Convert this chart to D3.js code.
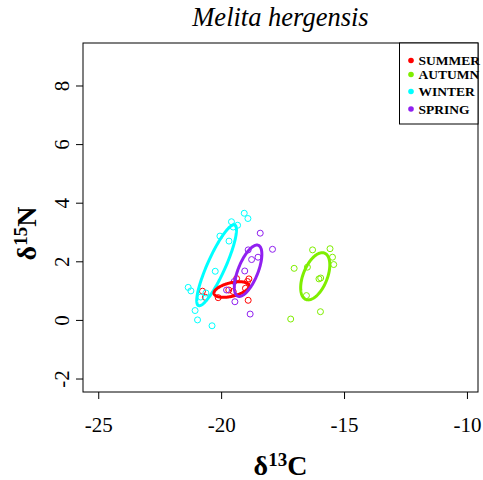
<!DOCTYPE html>
<html>
<head>
<meta charset="utf-8">
<script src="https://cdn.jsdelivr.net/npm/d3@7"></script>
<style>
  html, body { margin: 0; padding: 0; background: #fff; }
  svg { display: block; }
</style>
</head>
<body>
<svg id="chart" width="483" height="480"></svg>
<script>
// ---- data ----
const title = "Melita hergensis";
const seasons = ["SUMMER", "AUTUMN", "WINTER", "SPRING"];
const seasonColors = ["#ff0000", "#7fee00", "#00ffff", "#9020f0"];

const summerC = [-20.76, -20.64, -20.12, -19.69, -19.51, -19.37, -18.87, -18.93, -19.01, -18.90];
const summerN = [0.98, 0.77, 0.76, 1.02, 0.97, 1.41, 1.40, 1.31, 1.08, 0.67];

const autumnC = [-16.28, -15.57, -15.47, -15.42, -17.03, -16.49, -16.02, -15.95, -16.53, -15.96, -17.17];
const autumnN = [2.39, 2.43, 2.14, 1.89, 1.76, 1.80, 1.40, 1.43, 0.83, 0.28, 0.03];

const winterC = [-19.06, -18.91, -19.58, -19.33, -19.51, -20.05, -19.68, -20.24, -21.34, -21.23, -21.06, -20.96, -20.37, -20.83, -20.62];
const winterN = [3.64, 3.46, 3.35, 3.23, 3.17, 2.86, 2.69, 1.66, 1.11, 0.99, 0.32, 0.00, -0.20, 0.78, 0.92];

const springC = [-18.41, -17.91, -18.90, -18.76, -18.50, -19.04, -19.47, -19.78, -19.44, -18.82];
const springN = [2.96, 2.41, 2.39, 2.06, 2.14, 1.67, 1.31, 1.02, 0.62, 0.20];

const xTicks = [-25, -20, -15, -10];
const yTicks = [-2, 0, 2, 4, 6, 8];
const xDomain = [-25.62, -9.55];
const yDomain = [-2.46, 9.45];

// ---- layout ----
const svg = d3.select("#chart");
const L = 83, R = 478, T = 43, B = 392;
const x = d3.scaleLinear().domain(xDomain).range([L, R]);
const y = d3.scaleLinear().domain(yDomain).range([B, T]);
const serif = "'Liberation Serif', 'Times New Roman', serif";
const fmt = d => String(d);

const groups = [
  { name: "SUMMER", c: summerC, n: summerN, color: seasonColors[0] },
  { name: "AUTUMN", c: autumnC, n: autumnN, color: seasonColors[1] },
  { name: "WINTER", c: winterC, n: winterN, color: seasonColors[2] },
  { name: "SPRING", c: springC, n: springN, color: seasonColors[3] }
];

// points
groups.forEach(g => {
  svg.append("g").selectAll("circle")
    .data(g.c.map((v, i) => [v, g.n[i]]))
    .join("circle")
    .attr("cx", d => x(d[0]))
    .attr("cy", d => y(d[1]))
    .attr("r", 3)
    .attr("fill", "none")
    .attr("stroke", g.color)
    .attr("stroke-width", 1);
});

// standard ellipses from sample covariance
function ellipse(cs, ns) {
  const k = cs.length;
  const mx = d3.mean(cs), my = d3.mean(ns);
  let a = 0, b = 0, c = 0;
  for (let i = 0; i < k; i++) {
    const dx = cs[i] - mx, dy = ns[i] - my;
    a += dx * dx; b += dx * dy; c += dy * dy;
  }
  a /= (k - 1); b /= (k - 1); c /= (k - 1);
  const m = (a + c) / 2, s = Math.sqrt(((a - c) / 2) ** 2 + b * b);
  const l1 = m + s, l2 = Math.max(m - s, 0);
  const th = 0.5 * Math.atan2(2 * b, a - c);
  return d3.range(0, 200).map(j => {
    const t = j / 200 * 2 * Math.PI;
    const u = Math.sqrt(l1) * Math.cos(t), v = Math.sqrt(l2) * Math.sin(t);
    return [mx + u * Math.cos(th) - v * Math.sin(th), my + u * Math.sin(th) + v * Math.cos(th)];
  });
}
const line = d3.line().x(d => x(d[0])).y(d => y(d[1])).curve(d3.curveLinearClosed);
[2, 0, 1, 3].forEach(i => {
  const g = groups[i];
  svg.append("path")
    .attr("d", line(ellipse(g.c, g.n)))
    .attr("fill", "none")
    .attr("stroke", g.color)
    .attr("stroke-width", 3);
});

// box
svg.append("rect").attr("x", L).attr("y", T).attr("width", R - L).attr("height", B - T)
  .attr("fill", "none").attr("stroke", "#000").attr("stroke-width", 1);

// x axis
const xAxis = svg.append("g").attr("transform", `translate(0,${B})`)
  .call(d3.axisBottom(x).tickValues(xTicks).tickSize(7).tickFormat(fmt));
xAxis.select(".domain").remove();
xAxis.selectAll("text").attr("font-family", serif).attr("font-size", 21).attr("fill", "#000")
  .attr("y", 0).attr("dy", null).attr("transform", "translate(0,40)");

// y axis
const yAxis = svg.append("g").attr("transform", `translate(${L},0)`)
  .call(d3.axisLeft(y).tickValues(yTicks).tickSize(7).tickFormat(fmt));
yAxis.select(".domain").remove();
yAxis.selectAll(".tick text").each(function () {
  d3.select(this).attr("x", null).attr("dy", null).attr("text-anchor", "middle")
    .attr("transform", `translate(-14,0) rotate(-90)`)
    .attr("y", 0)
    .attr("font-family", serif).attr("font-size", 21).attr("fill", "#000");
});

// axis titles
const xt = svg.append("text").attr("x", (L + R) / 2).attr("y", 475).attr("text-anchor", "middle")
  .attr("font-family", serif).attr("font-weight", "bold").attr("font-size", 28).attr("fill", "#000");
xt.append("tspan").text("δ");
xt.append("tspan").text("13").attr("font-size", 19).attr("dy", -9);
xt.append("tspan").text("C").attr("dy", 9);

const yt = svg.append("text").attr("transform", `translate(36,233.5) rotate(-90)`).attr("text-anchor", "middle")
  .attr("font-family", serif).attr("font-weight", "bold").attr("font-size", 28).attr("fill", "#000");
yt.append("tspan").text("δ");
yt.append("tspan").text("15").attr("font-size", 19).attr("dy", -9);
yt.append("tspan").text("N").attr("dy", 9);

// title
svg.append("text").attr("x", (L + R) / 2).attr("y", 26).attr("text-anchor", "middle")
  .attr("font-family", serif).attr("font-style", "italic").attr("font-size", 26.5).attr("fill", "#000")
  .text(title);

// legend
const lg = svg.append("g");
lg.append("rect").attr("x", 399.5).attr("y", T).attr("width", R - 399.5).attr("height", 124 - T)
  .attr("fill", "#fff").attr("stroke", "#000").attr("stroke-width", 1);
const legY = [60.5, 74.5, 91.5, 109];
seasons.forEach((s, i) => {
  lg.append("circle").attr("cx", 411).attr("cy", legY[i]).attr("r", 2.8).attr("fill", seasonColors[i]);
  lg.append("text").attr("x", 418.5).attr("y", legY[i]).attr("dy", "0.35em")
    .attr("font-family", serif).attr("font-weight", "bold").attr("font-size", 13.5).attr("fill", "#000")
    .text(s);
});
</script>
</body>
</html>
